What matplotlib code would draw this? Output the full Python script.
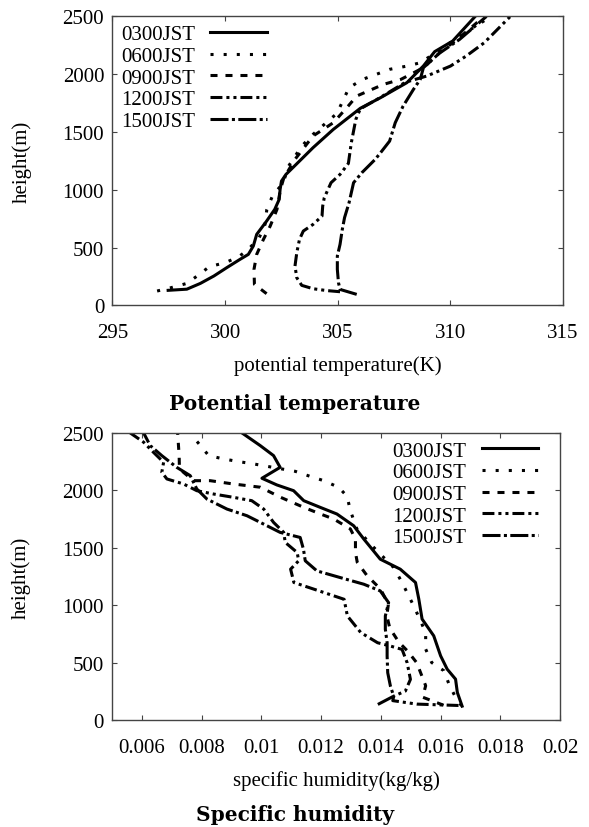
import matplotlib
matplotlib.use('Agg')
import matplotlib.pyplot as plt

labels = ['0300JST', '0600JST', '0900JST', '1200JST', '1500JST']

# potential temperature (K) / height (m)
pt_0300 = [297.47, 298.3, 298.9, 299.5, 300.07, 300.66, 301.03, 301.25, 301.4, 301.84, 302.2, 302.4,
           302.44, 302.5, 302.7, 303.05, 303.9, 304.8, 306.0, 306.9, 308.07, 308.8, 309.3, 310.1, 311.1]
h_pt_0300 = [130, 140, 190, 254, 326, 398, 441, 513, 614, 729, 830, 917,
             1003, 1075, 1133, 1200, 1364, 1522, 1705, 1797, 1927, 2071, 2195, 2287, 2500]
pt_0600 = [296.98, 297.6, 298.3, 298.8, 299.3, 300.0, 300.6, 301.0, 301.5, 301.77, 301.85, 302.1, 302.58,
           302.8, 303.4, 303.9, 304.6, 304.96, 305.5, 306.1, 306.7, 307.3, 308.07, 308.66, 309.3, 310.2, 311.8]
h_pt_0600 = [124, 153, 190, 260, 335, 369, 420, 480, 580, 700, 830, 946, 1061,
             1200, 1378, 1479, 1600, 1660, 1883, 1955, 1998, 2042, 2070, 2099, 2180, 2300, 2500]
pt_0900 = [301.84, 301.3, 301.28, 301.4, 301.7, 302.0, 302.3, 302.45, 302.6, 303.1, 303.9, 304.8,
           305.4, 305.84, 307.03, 307.8, 308.66, 309.0, 309.6, 310.3, 311.5]
h_pt_0900 = [101, 182, 311, 441, 571, 686, 830, 1000, 1100, 1263, 1465, 1580,
             1710, 1811, 1912, 1955, 2042, 2090, 2200, 2300, 2500]
pt_1200 = [305.1, 304.5, 303.9, 303.4, 303.18, 303.1, 303.18, 303.3, 303.47, 303.9, 304.3, 304.33, 304.4,
           304.7, 305.1, 305.47, 305.6, 305.8, 306.0, 306.9, 308.0, 308.95, 310.0, 310.7, 311.5, 312.66]
h_pt_1200 = [118, 128, 144, 173, 239, 340, 456, 571, 643, 700, 772, 859, 931,
             1061, 1133, 1228, 1407, 1609, 1700, 1800, 1930, 1984, 2070, 2157, 2272, 2500]
pt_1500 = [305.84, 305.1, 305.03, 304.98, 304.98, 305.1, 305.2, 305.3, 305.5, 305.7, 306.07, 306.66,
           306.9, 307.3, 307.55, 307.9, 308.36, 308.66, 308.8, 309.5, 310.4, 311.6]
h_pt_1500 = [95, 138, 196, 311, 427, 528, 657, 759, 888, 1061, 1148, 1263,
             1321, 1421, 1580, 1724, 1869, 1955, 2056, 2180, 2300, 2500]

# specific humidity (kg/kg) / height (m)
q_0300 = [0.01672, 0.01656, 0.0165, 0.01622, 0.0160, 0.01577, 0.01538, 0.01527, 0.01516, 0.01465, 0.01398,
          0.01343, 0.01309, 0.01253, 0.01197, 0.01142, 0.01108, 0.01052, 0.01002, 0.01063, 0.01041, 0.00996, 0.00935]
h_q_0300 = [122, 241, 357, 444, 560, 734, 880, 1054, 1198, 1314, 1401,
            1576, 1692, 1794, 1852, 1910, 1997, 2047, 2105, 2200, 2302, 2390, 2500]
q_0600 = [0.0167, 0.0165, 0.0163, 0.01611, 0.0157, 0.0155, 0.0155, 0.0153, 0.0151, 0.01471, 0.01443, 0.01371,
          0.0132, 0.01298, 0.01287, 0.01259, 0.01209, 0.01164, 0.01114, 0.00974, 0.00924, 0.00874, 0.00824, 0.0078]
h_q_0600 = [125, 200, 300, 430, 502, 618, 762, 880, 994, 1198, 1328, 1517,
            1663, 1823, 1948, 2026, 2084, 2121, 2165, 2230, 2250, 2273, 2302, 2440]
q_0900 = [0.0161, 0.0154, 0.0155, 0.01535, 0.0152, 0.0149, 0.0146, 0.0143, 0.0142, 0.01426, 0.01416, 0.01399,
          0.01354, 0.01321, 0.01315, 0.01315, 0.01298, 0.01242, 0.01198, 0.01142, 0.01064, 0.00997, 0.00907,
          0.00829, 0.00773, 0.00726, 0.00725, 0.0072]
h_q_0900 = [130, 200, 300, 400, 500, 600, 680, 800, 910, 1023, 1054, 1141,
            1257, 1374, 1461, 1577, 1664, 1751, 1794, 1852, 1940, 2027, 2055,
            2084, 2084, 2186, 2300, 2500]
q_1200 = [0.0166, 0.0152, 0.0144, 0.01443, 0.01482, 0.01499, 0.01488, 0.01471, 0.01432, 0.01389, 0.01333,
          0.01288, 0.01277, 0.01176, 0.01109, 0.01098, 0.01125, 0.0112, 0.0108, 0.01075, 0.01041, 0.01008,
          0.00968, 0.00907, 0.0084, 0.00784, 0.0074, 0.00684, 0.00667, 0.00673, 0.00639, 0.00606, 0.00561]
h_q_1200 = [128, 140, 170, 209, 253, 355, 500, 616, 645, 674, 762,
            907, 1052, 1140, 1198, 1314, 1387, 1459, 1547, 1634, 1721, 1837,
            1910, 1939, 1968, 1997, 2055, 2099, 2157, 2244, 2331, 2419, 2500]
q_1500 = [0.0139, 0.01443, 0.01432, 0.01423, 0.01421, 0.01421, 0.01415, 0.01415, 0.01426, 0.01398, 0.01343,
          0.01264, 0.01186, 0.01147, 0.01141, 0.0113, 0.01063, 0.01008, 0.00952, 0.00885, 0.00818, 0.00784,
          0.00762, 0.00717, 0.00667, 0.00628, 0.00606]
h_q_1500 = [137, 209, 297, 413, 558, 674, 791, 907, 1023, 1125, 1183,
            1241, 1299, 1387, 1488, 1590, 1634, 1706, 1779, 1837, 1924, 2012,
            2128, 2200, 2302, 2390, 2500]

pt_series = [(pt_0300, h_pt_0300), (pt_0600, h_pt_0600), (pt_0900, h_pt_0900),
             (pt_1200, h_pt_1200), (pt_1500, h_pt_1500)]
q_series = [(q_0300, h_q_0300), (q_0600, h_q_0600), (q_0900, h_q_0900),
            (q_1200, h_q_1200), (q_1500, h_q_1500)]

pt_ticks = [295, 300, 305, 310, 315]
q_ticks = [0.006, 0.008, 0.010, 0.012, 0.014, 0.016, 0.018, 0.020]
q_ticklabels = ['0.006', '0.008', '0.01', '0.012', '0.014', '0.016', '0.018', '0.02']
h_ticks = [0, 500, 1000, 1500, 2000, 2500]

styles = ['-', (0, (1, 3.3)), (0, (2.3, 2.6)), (0, (3.9, 1.3, 1, 1.3, 1, 1.3)), (0, (5.9, 1.1, 1, 1.1))]
LW = 2.2

plt.rcParams['font.family'] = ['Liberation Serif', 'DejaVu Serif']
plt.rcParams['font.size'] = 15

fig = plt.figure(figsize=(5.89, 8.28), dpi=100)
ax1 = fig.add_axes([0.191, 0.630, 0.765, 0.349])
ax2 = fig.add_axes([0.190, 0.129, 0.761, 0.347])


def style_axes(ax):
    for s in ax.spines.values():
        s.set_color('#444444')
        s.set_linewidth(1.0)
    ax.tick_params(direction='in', top=True, right=True, length=3.5, width=0.8,
                   color='#444444', labelsize=15)
    ax.tick_params(axis='x', pad=13)
    ax.tick_params(axis='y', pad=6)
    ax.set_yticks(h_ticks)
    ax.set_ylim(0, 2500)
    ax.set_ylabel('height(m)', fontsize=15)
    ax.yaxis.set_label_coords(-0.18, 0.5)


for (x, h), ls, lab in zip(pt_series, styles, labels):
    ax1.plot(x, h, color='black', lw=LW, linestyle=ls, label=lab)
ax1.set_xlim(295, 315)
ax1.set_xticks(pt_ticks)
style_axes(ax1)
ax1.set_xlabel('potential temperature(K)', fontsize=15, labelpad=9)
ax1.legend(loc='upper left', frameon=False, markerfirst=False, fontsize=15,
           handlelength=2.7, handletextpad=0.75, labelspacing=0.1,
           borderaxespad=0.1, borderpad=0.3)

for (x, h), ls, lab in zip(q_series, styles, labels):
    ax2.plot(x, h, color='black', lw=LW, linestyle=ls, label=lab)
ax2.set_xlim(0.005, 0.020)
ax2.set_xticks(q_ticks)
ax2.set_xticklabels(q_ticklabels)
style_axes(ax2)
ax2.set_xlabel('specific humidity(kg/kg)', fontsize=15, labelpad=9)
ax2.legend(loc='upper right', bbox_to_anchor=(0.97, 1.0), frameon=False, markerfirst=False,
           fontsize=15, handlelength=2.7, handletextpad=0.75, labelspacing=0.1,
           borderaxespad=0.1, borderpad=0.3)

fig.text(0.5, 1 - 410 / 828, 'Potential temperature', family='DejaVu Serif',
         fontweight='bold', fontsize=14.5, ha='center', va='baseline')
fig.text(0.5, 1 - 821 / 828, 'Specific humidity', family='DejaVu Serif',
         fontweight='bold', fontsize=14.5, ha='center', va='baseline')

fig.savefig('out.png', dpi=100)
